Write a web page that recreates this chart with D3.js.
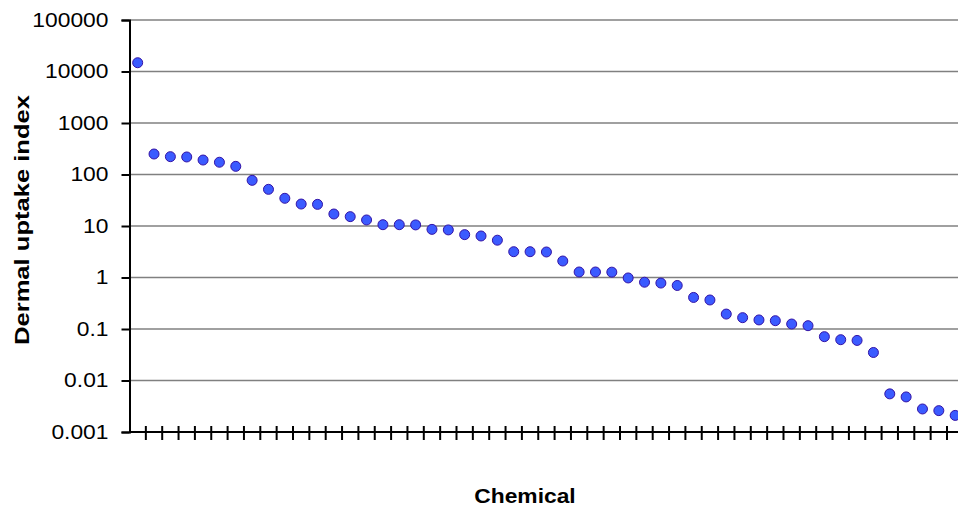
<!DOCTYPE html>
<html>
<head>
<meta charset="utf-8">
<script src="https://cdn.jsdelivr.net/npm/d3@7"></script>
<style>
    body { margin:0; background:#fff; }
    text { font-family: "Liberation Sans", Arial, sans-serif; fill:#000; }
    .grid line { stroke:#808080; stroke-width:1.5px; }
    .dot { fill:#3b5bff; stroke:#3414a6; stroke-width:1px; }
</style>
</head>
<body>
<div id="chart"></div>
<script>
    // chemicals are unnamed on the chart, one category per point
    var uptake = [14800, 250, 222, 219, 191, 173, 144, 77, 51.5, 34.5,
        26.7, 26.3, 17.1, 15.2, 13.1, 10.6, 10.6, 10.5, 8.6, 8.4,
        6.8, 6.4, 5.3, 3.17, 3.17, 3.13, 2.09, 1.28, 1.28, 1.27,
        0.98, 0.81, 0.78, 0.70, 0.41, 0.366, 0.195, 0.166, 0.150, 0.145,
        0.125, 0.116, 0.071, 0.062, 0.060, 0.035, 0.0055, 0.0048, 0.0028, 0.0026,
        0.0021];
    var chemicals = uptake.map((d,i)=>"C"+(i+1));
    var yTicks = [0.001, 0.01, 0.1, 1, 10, 100, 1000, 10000, 100000];
    var yTickLabels = ["0.001","0.01","0.1","1","10","100","1000","10000","100000"];

    var width = 958, height = 506;
    var plotLeft = 129.5, plotTop = 20, plotBottom = 432, step = 16.35;
    var stretch = 1.17;

    var svg = d3.select("#chart").append("svg")
        .attr("width", width).attr("height", height);

    var x = d3.scaleBand().domain(chemicals)
        .range([plotLeft, plotLeft + step*chemicals.length]).padding(0);
    var y = d3.scaleLog().domain([0.001, 100000]).range([plotBottom, plotTop]);

    // horizontal gridlines
    svg.append("g").attr("class","grid")
        .selectAll("line").data(yTicks.slice(1)).enter().append("line")
        .attr("x1", plotLeft).attr("x2", width)
        .attr("y1", d=>y(d)).attr("y2", d=>y(d));

    // y axis
    var yAxis = svg.append("g").attr("transform","translate("+plotLeft+",0)")
        .call(d3.axisLeft(y).tickValues(yTicks).tickSize(8).tickPadding(13)
            .tickFormat((d,i)=>yTickLabels[i]));
    yAxis.select(".domain").attr("stroke","#000").attr("stroke-width",2);
    yAxis.selectAll(".tick line").attr("stroke","#000").attr("stroke-width",2);
    yAxis.selectAll(".tick text").attr("font-size","19.5px")
        .attr("font-family",null)
        .each(function(){
            var w = this.getComputedTextLength();
            d3.select(this).attr("textLength", w*stretch).attr("lengthAdjust","spacingAndGlyphs");
        });

    // x axis, ticks between categories crossing the line
    var xg = svg.append("g");
    xg.append("line").attr("x1", plotLeft).attr("x2", width)
        .attr("y1", plotBottom).attr("y2", plotBottom)
        .attr("stroke","#000").attr("stroke-width",2);
    xg.selectAll(".xt").data(chemicals.slice(1)).enter().append("line")
        .attr("class","xt")
        .attr("x1", d=>x(d)).attr("x2", d=>x(d))
        .attr("y1", plotBottom-6).attr("y2", plotBottom+8)
        .attr("stroke","#000").attr("stroke-width",2);

    // points
    svg.append("g").selectAll("circle")
        .data(uptake).enter().append("circle")
        .attr("class","dot")
        .attr("cx", (d,i)=>x(chemicals[i]) + x.bandwidth()/2)
        .attr("cy", d=>y(d))
        .attr("r", 5);

    // axis titles
    var xt = svg.append("text")
        .attr("x", 525).attr("y", 503)
        .attr("text-anchor","middle")
        .attr("font-size","19.5px").attr("font-weight","bold")
        .text("Chemical");
    xt.attr("textLength", xt.node().getComputedTextLength()*stretch)
        .attr("lengthAdjust","spacingAndGlyphs");

    svg.append("text")
        .attr("transform","translate(29,220) rotate(-90)")
        .attr("text-anchor","middle")
        .attr("font-size","19.5px").attr("font-weight","bold")
        .attr("textLength", 250).attr("lengthAdjust","spacingAndGlyphs")
        .text("Dermal uptake index");
</script>
</body>
</html>
